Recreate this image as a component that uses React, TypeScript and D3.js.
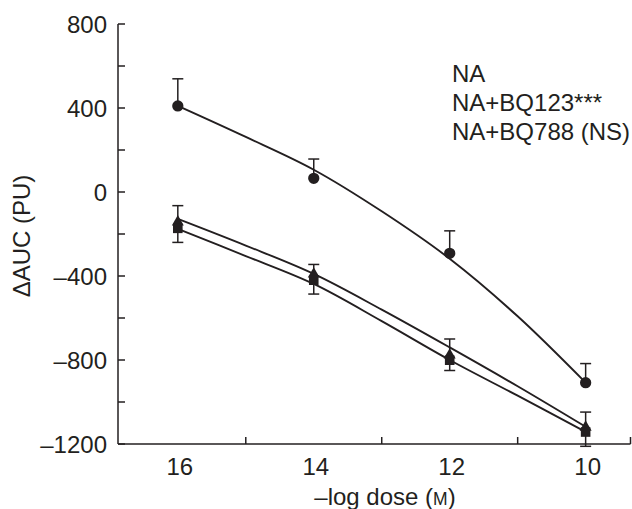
import React, { useEffect, useRef } from "react";
import * as d3 from "d3";

// dose groups (-log M) and group means / SEM
const doses = [16, 14, 12, 10];
const naMean = [410, 65, -292, -908];
const naErr = [129, 92, 107, 91];
const bq123Mean = [-143, -391, -777, -1120];
const bq123Err = [78, 46, 77, 72];
const bq788Mean = [-173, -420, -801, -1143];
const bq788Err = [67, 66, 49, 68];

// fitted curves as drawn in the figure
const fitDoses = [16, 15, 14, 13, 12, 11, 10];
const naFit = [410, 262, 106, -92, -318, -592, -908];
const bq123Fit = [-128, -255, -390, -560, -740, -925, -1118];
const bq788Fit = [-176, -305, -438, -615, -800, -970, -1142];

const yTicks = [800, 400, 0, -400, -800, -1200];
const yMinor = [600, 200, -200, -600, -1000];
const xTicks = [16, 14, 12, 10];
const xMinor = [15, 13, 11];
const legendLabels = ["NA", "NA+BQ123***", "NA+BQ788 (NS)"];

const INK = "#231f20";
const FONT = "'Liberation Sans', Arial, sans-serif";
const FS = 24;

export default function App() {
  const ref = useRef<SVGSVGElement>(null);

  useEffect(() => {
    const svg = d3.select(ref.current);
    svg.selectAll("*").remove();

    const x = d3.scaleLinear().domain([16.88, 9.34]).range([118, 630.5]);
    const y = d3.scaleLinear().domain([-1200, 800]).range([444, 24]);
    const x0 = x(16.88), x1 = x(9.34), yb = y(-1200), yt = y(800);

    const g = svg.append("g");

    // axes
    g.append("line").attr("x1", x0).attr("x2", x0).attr("y1", yt).attr("y2", yb)
      .attr("stroke", INK).attr("stroke-width", 1.5);
    g.append("line").attr("x1", x0).attr("x2", x1).attr("y1", yb).attr("y2", yb)
      .attr("stroke", INK).attr("stroke-width", 1.5);

    g.selectAll(".ytick").data(yTicks.concat(yMinor)).join("line")
      .attr("class", "ytick")
      .attr("x1", x0).attr("x2", x0 + 7)
      .attr("y1", d => y(d)).attr("y2", d => y(d))
      .attr("stroke", INK).attr("stroke-width", 1.5);

    g.selectAll(".xtick").data(xMinor.concat([9.34])).join("line")
      .attr("class", "xtick")
      .attr("x1", d => x(d)).attr("x2", d => x(d))
      .attr("y1", yb).attr("y2", yb - 7)
      .attr("stroke", INK).attr("stroke-width", 1.5);

    g.selectAll(".ylab").data(yTicks).join("text")
      .attr("class", "ylab")
      .attr("x", 107).attr("y", d => y(d) + 8.5)
      .attr("text-anchor", "end")
      .attr("font-family", FONT).attr("font-size", FS).attr("fill", INK)
      .text(d => (d < 0 ? "\u2013" + Math.abs(d) : String(d)));

    g.selectAll(".xlab").data(xTicks).join("text")
      .attr("class", "xlab")
      .attr("x", d => x(d) + 2).attr("y", 475)
      .attr("text-anchor", "middle")
      .attr("font-family", FONT).attr("font-size", FS).attr("fill", INK)
      .text(d => String(d));

    const xt = g.append("text")
      .attr("x", 385).attr("y", 505)
      .attr("text-anchor", "middle")
      .attr("font-family", FONT).attr("font-size", FS).attr("fill", INK);
    xt.append("tspan").text("\u2013log dose (");
    xt.append("tspan").attr("font-size", 17.5).text("M");
    xt.append("tspan").text(")");

    g.append("text")
      .attr("transform", "translate(30,236) rotate(-90)")
      .attr("text-anchor", "middle")
      .attr("font-family", FONT).attr("font-size", FS).attr("fill", INK)
      .text("\u0394AUC (PU)");

    // fitted curves
    const line = d3.line<number>()
      .x((_, i) => x(fitDoses[i]))
      .y(d => y(d))
      .curve(d3.curveCatmullRom);
    [naFit, bq123Fit, bq788Fit].forEach(f => {
      g.append("path").attr("d", line(f)).attr("fill", "none")
        .attr("stroke", INK).attr("stroke-width", 1.9);
    });

    // error bars: NA and BQ123 upward, BQ788 downward
    const series = [
      { mean: naMean, err: naErr, dir: 1, sym: d3.symbolCircle, size: 100 },
      { mean: bq123Mean, err: bq123Err, dir: 1, sym: d3.symbolTriangle, size: 62 },
      { mean: bq788Mean, err: bq788Err, dir: -1, sym: d3.symbolSquare, size: 92 },
    ];
    series.forEach(s => {
      doses.forEach((dose, i) => {
        const cx = x(dose);
        const end = y(s.mean[i] + s.dir * s.err[i]);
        g.append("line").attr("x1", cx).attr("x2", cx)
          .attr("y1", y(s.mean[i])).attr("y2", end)
          .attr("stroke", INK).attr("stroke-width", 1.5);
        g.append("line").attr("x1", cx - 5.5).attr("x2", cx + 5.5)
          .attr("y1", end).attr("y2", end)
          .attr("stroke", INK).attr("stroke-width", 1.5);
      });
    });
    series.forEach(s => {
      g.selectAll(null).data(doses).join("path")
        .attr("transform", (d, i) => `translate(${x(d)},${y(s.mean[i])})`)
        .attr("d", d3.symbol().type(s.sym).size(s.size)())
        .attr("fill", INK);
    });

    // legend (text only)
    g.selectAll(".leg").data(legendLabels).join("text")
      .attr("class", "leg")
      .attr("x", 452).attr("y", (_, i) => 82 + i * 29)
      .attr("font-family", FONT).attr("font-size", FS).attr("fill", INK)
      .text(d => d);
  }, []);

  return (
    <svg ref={ref} width={632} height={509}
      style={{ position: "absolute", left: 0, top: 0, background: "#fff" }} />
  );
}
